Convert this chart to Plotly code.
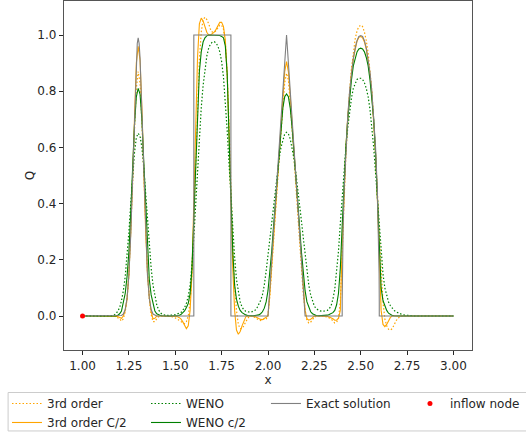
import plotly.graph_objects as go

# sample grid of the numerical solutions: x = 1.15 ... 2.80, step 0.01 (166 points)
x_start, x_step, n_pts = 1.15, 0.01, 166
x_grid = [round(x_start + x_step * i, 2) for i in range(n_pts)]

# 3rd order (dotted orange)
ord3 = [
    0, 0, 0, -0.003, -0.006, -0.01, -0.018, -0.01, 0.015, 0.06,
    0.15, 0.29, 0.47, 0.66, 0.81, 0.87, 0.83, 0.69, 0.50, 0.31,
    0.16, 0.06, 0.005, -0.02, -0.02, -0.01, -0.003, 0, 0, 0,
    0, 0, -0.001, -0.002, -0.004, -0.006, -0.01, -0.015, -0.02, -0.025,
    -0.028, -0.02, 0.0, 0.05, 0.15, 0.32, 0.54, 0.75, 0.91, 1.01,
    1.055, 1.063, 1.055, 1.04, 1.02, 1.01, 1.01, 1.015, 1.025, 1.035,
    1.035, 1.02, 0.97, 0.86, 0.68, 0.46, 0.26, 0.11, 0.02, -0.03,
    -0.045, -0.045, -0.035, -0.02, -0.008, 0.0, 0.0, -0.002, -0.005, -0.01,
    -0.014, -0.016, -0.013, -0.01, -0.012, 0.005, 0.07, 0.16, 0.26, 0.36,
    0.46, 0.56, 0.66, 0.75, 0.83, 0.864, 0.84, 0.76, 0.67, 0.57,
    0.47, 0.37, 0.27, 0.17, 0.08, 0.02, -0.015, -0.025, -0.022, -0.012,
    -0.004, 0, 0, 0, 0, 0, -0.002, -0.004, -0.006, -0.01,
    -0.018, -0.025, -0.022, -0.01, 0.05, 0.2, 0.4, 0.57, 0.70, 0.80,
    0.88, 0.94, 0.985, 1.015, 1.03, 1.035, 1.03, 1.01, 0.98, 0.935,
    0.875, 0.80, 0.70, 0.58, 0.44, 0.29, 0.15, 0.05, -0.01, -0.035,
    -0.047, -0.05, -0.045, -0.03, -0.018, -0.008, -0.003, 0, 0, 0,
    0, 0, 0, 0, 0, 0,
]

# 3rd order C/2 (solid orange)
ord3_half = [
    0, 0, 0, 0, -0.002, -0.005, -0.008, 0.0, 0.02, 0.06,
    0.15, 0.30, 0.50, 0.73, 0.90, 0.96, 0.91, 0.74, 0.51, 0.31,
    0.155, 0.065, 0.015, -0.01, -0.008, 0.0, 0, 0, 0, 0,
    0, 0, 0, 0, 0, 0, -0.002, -0.005, -0.01, -0.02,
    -0.035, -0.045, -0.035, 0.02, 0.15, 0.40, 0.70, 0.92, 1.04, 1.06,
    1.05, 1.03, 1.01, 1.0, 1.0, 1.005, 1.01, 1.02, 1.035, 1.045,
    1.045, 1.03, 0.98, 0.86, 0.65, 0.40, 0.17, 0.02, -0.05, -0.065,
    -0.055, -0.035, -0.015, -0.003, 0, 0, 0, 0, -0.002, -0.005,
    -0.01, -0.012, -0.013, -0.008, -0.005, 0.0, 0.08, 0.18, 0.28, 0.38,
    0.48, 0.58, 0.68, 0.78, 0.87, 0.905, 0.87, 0.78, 0.68, 0.58,
    0.48, 0.38, 0.28, 0.18, 0.09, 0.02, -0.01, -0.015, -0.012, -0.005,
    0, 0, 0, 0, 0, 0, 0, -0.002, -0.004, -0.006,
    -0.01, -0.015, -0.015, -0.008, 0.02, 0.25, 0.45, 0.60, 0.71, 0.80,
    0.865, 0.915, 0.953, 0.978, 0.992, 0.995, 0.99, 0.975, 0.95, 0.91,
    0.86, 0.79, 0.70, 0.58, 0.41, 0.18, 0.02, -0.03, -0.038, -0.03,
    -0.015, -0.005, 0, 0, 0, 0, 0, 0, 0, 0,
    0, 0, 0, 0, 0, 0,
]

# WENO (dotted green)
weno = [
    0.0, 0.001, 0.003, 0.008, 0.017, 0.03, 0.055, 0.09, 0.14, 0.21,
    0.30, 0.40, 0.50, 0.58, 0.635, 0.65, 0.64, 0.60, 0.53, 0.44,
    0.34, 0.25, 0.17, 0.11, 0.07, 0.04, 0.022, 0.011, 0.006, 0.003,
    0.002, 0.002, 0.002, 0.003, 0.004, 0.005, 0.007, 0.009, 0.012, 0.02,
    0.03, 0.045, 0.07, 0.11, 0.18, 0.28, 0.40, 0.52, 0.64, 0.74,
    0.82, 0.88, 0.925, 0.953, 0.968, 0.975, 0.976, 0.972, 0.96, 0.94,
    0.905, 0.85, 0.77, 0.66, 0.54, 0.42, 0.31, 0.21, 0.13, 0.08,
    0.05, 0.032, 0.022, 0.017, 0.015, 0.014, 0.014, 0.016, 0.02, 0.028,
    0.04, 0.055, 0.075, 0.11, 0.16, 0.22, 0.28, 0.34, 0.40, 0.46,
    0.51, 0.56, 0.60, 0.63, 0.648, 0.654, 0.648, 0.63, 0.60, 0.56,
    0.51, 0.46, 0.40, 0.34, 0.28, 0.22, 0.16, 0.11, 0.075, 0.05,
    0.035, 0.026, 0.021, 0.018, 0.017, 0.017, 0.018, 0.02, 0.026, 0.036,
    0.06, 0.095, 0.155, 0.23, 0.33, 0.43, 0.52, 0.60, 0.67, 0.73,
    0.775, 0.81, 0.83, 0.842, 0.846, 0.846, 0.842, 0.83, 0.81, 0.78,
    0.735, 0.675, 0.60, 0.51, 0.41, 0.31, 0.22, 0.15, 0.10, 0.07,
    0.05, 0.037, 0.027, 0.02, 0.015, 0.011, 0.008, 0.006, 0.004, 0.003,
    0.002, 0.001, 0.001, 0, 0, 0,
]

# WENO c/2 (solid green)
weno_half = [
    0, 0, 0, 0.0, 0.003, 0.008, 0.018, 0.045, 0.08, 0.14,
    0.23, 0.37, 0.53, 0.68, 0.78, 0.81, 0.79, 0.70, 0.55, 0.39,
    0.24, 0.13, 0.075, 0.04, 0.018, 0.008, 0.004, 0.002, 0.001, 0,
    0, 0, 0, 0, 0, 0, 0.001, 0.002, 0.005, 0.01,
    0.018, 0.03, 0.045, 0.08, 0.17, 0.35, 0.55, 0.74, 0.87, 0.94,
    0.975, 0.99, 0.997, 1.0, 1.0, 1.0, 1.0, 1.0, 0.999, 0.998,
    0.995, 0.99, 0.96, 0.86, 0.64, 0.42, 0.23, 0.11, 0.06, 0.035,
    0.02, 0.012, 0.007, 0.004, 0.002, 0.001, 0.001, 0.001, 0.002, 0.003,
    0.004, 0.008, 0.015, 0.028, 0.05, 0.09, 0.15, 0.23, 0.32, 0.41,
    0.50, 0.59, 0.67, 0.74, 0.78, 0.79, 0.78, 0.74, 0.67, 0.59,
    0.50, 0.41, 0.32, 0.23, 0.15, 0.09, 0.05, 0.028, 0.015, 0.008,
    0.004, 0.002, 0.001, 0.001, 0.001, 0.001, 0.002, 0.003, 0.005, 0.008,
    0.012, 0.02, 0.04, 0.08, 0.17, 0.32, 0.48, 0.60, 0.70, 0.78,
    0.84, 0.89, 0.92, 0.94, 0.95, 0.953, 0.95, 0.94, 0.92, 0.89,
    0.84, 0.78, 0.70, 0.58, 0.40, 0.22, 0.10, 0.055, 0.035, 0.02,
    0.01, 0.005, 0.002, 0.001, 0, 0, 0, 0, 0, 0,
    0, 0, 0, 0, 0, 0,
]

# exact solution
exact_x = [1.00, 1.20, 1.21, 1.22, 1.23, 1.24, 1.25, 1.26, 1.27, 1.28, 1.29, 1.295, 1.30,
           1.305, 1.31, 1.32, 1.33, 1.34, 1.35, 1.36, 1.37, 1.38, 1.39, 1.40,
           1.60, 1.60, 1.80, 1.80,
           2.00, 2.10, 2.20,
           2.40, 2.40, 2.401, 2.405, 2.41, 2.42, 2.43, 2.44, 2.45, 2.46, 2.47, 2.48, 2.49,
           2.50, 2.51, 2.52, 2.53, 2.54, 2.55, 2.56, 2.57, 2.58, 2.59, 2.595, 2.599,
           2.60, 2.60, 3.00]
exact_y = [0, 0, 0.002, 0.007, 0.023, 0.063, 0.146, 0.29, 0.49, 0.73, 0.92, 0.97, 0.99,
           0.97, 0.92, 0.73, 0.49, 0.29, 0.146, 0.063, 0.023, 0.007, 0.002, 0,
           0, 1, 1, 0,
           0, 1, 0,
           0, 0.05, 0.15, 0.31, 0.44, 0.60, 0.71, 0.80, 0.866, 0.917, 0.954, 0.98, 0.995,
           0.998, 0.995, 0.98, 0.954, 0.917, 0.866, 0.80, 0.71, 0.60, 0.44, 0.31, 0.15,
           0.05, 0, 0]

inflow_x = [1.0]
inflow_y = [0.0]

x_domain = [1.0, 3.0]

for s in (ord3, ord3_half, weno, weno_half):
    assert len(s) == n_pts


def full(series):
    return [x_domain[0]] + x_grid + [x_domain[1]], [0] + series + [0]


ORANGE = "#FFA500"
GREEN = "#008000"
GRAY = "#808080"
DOT = "1.5px,2px"

fig = go.Figure()
xs, ys = full(ord3)
fig.add_trace(go.Scatter(x=xs, y=ys, mode="lines", name="3rd order",
                         line=dict(color=ORANGE, width=1.2, dash=DOT), legend="legend"))
xs, ys = full(ord3_half)
fig.add_trace(go.Scatter(x=xs, y=ys, mode="lines", name="3rd order C/2",
                         line=dict(color=ORANGE, width=1.1), legend="legend"))
xs, ys = full(weno)
fig.add_trace(go.Scatter(x=xs, y=ys, mode="lines", name="WENO",
                         line=dict(color=GREEN, width=1.2, dash=DOT), legend="legend2"))
xs, ys = full(weno_half)
fig.add_trace(go.Scatter(x=xs, y=ys, mode="lines", name="WENO c/2",
                         line=dict(color=GREEN, width=1.1), legend="legend2"))
fig.add_trace(go.Scatter(x=exact_x, y=exact_y, mode="lines", name="Exact solution",
                         line=dict(color=GRAY, width=1.1), legend="legend3"))
fig.add_trace(go.Scatter(x=inflow_x, y=inflow_y, mode="markers", name="inflow node",
                         marker=dict(color="red", size=5), legend="legend4"))

font = dict(family="DejaVu Sans", size=12, color="#262626")
leg_common = dict(orientation="v", y=-0.1117, xanchor="left", yanchor="top",
                  bgcolor="rgba(0,0,0,0)", borderwidth=0, tracegroupgap=0,
                  itemwidth=30, font=font, traceorder="normal")
fig.update_layout(
    width=526, height=432,
    margin=dict(l=64, r=54, t=1, b=82, autoexpand=False),
    plot_bgcolor="white", paper_bgcolor="white",
    font=font,
    showlegend=True,
    legend=dict(x=-0.1397, **leg_common),
    legend2=dict(x=0.201, **leg_common),
    legend3=dict(x=0.495, **leg_common),
    legend4=dict(x=0.848, **leg_common),
    shapes=[dict(type="rect", xref="paper", yref="paper",
                 x0=-0.137, x1=1.2, y0=-0.232, y1=-0.1218,
                 line=dict(color="#cccccc", width=1), fillcolor="rgba(0,0,0,0)",
                 layer="below")],
)
fig.update_xaxes(range=[0.9, 3.1], tickvals=[1.0, 1.25, 1.5, 1.75, 2.0, 2.25, 2.5, 2.75, 3.0],
                 tickformat=".2f", ticks="outside", ticklen=4, tickcolor="#262626",
                 showline=True, linecolor="#555555", linewidth=1.3, mirror=True,
                 showgrid=False, zeroline=False,
                 title=dict(text="x", font=font, standoff=2))
fig.update_yaxes(range=[-0.121, 1.121], tickvals=[0.0, 0.2, 0.4, 0.6, 0.8, 1.0],
                 tickformat=".1f", ticks="outside", ticklen=4, tickcolor="#262626",
                 showline=True, linecolor="#555555", linewidth=1.3, mirror=True,
                 showgrid=False, zeroline=False,
                 title=dict(text="Q", font=font, standoff=0))

fig.write_html("out.html",
               config={"displayModeBar": False},
               post_script="document.body.style.margin='0';document.body.style.overflow='hidden';")
